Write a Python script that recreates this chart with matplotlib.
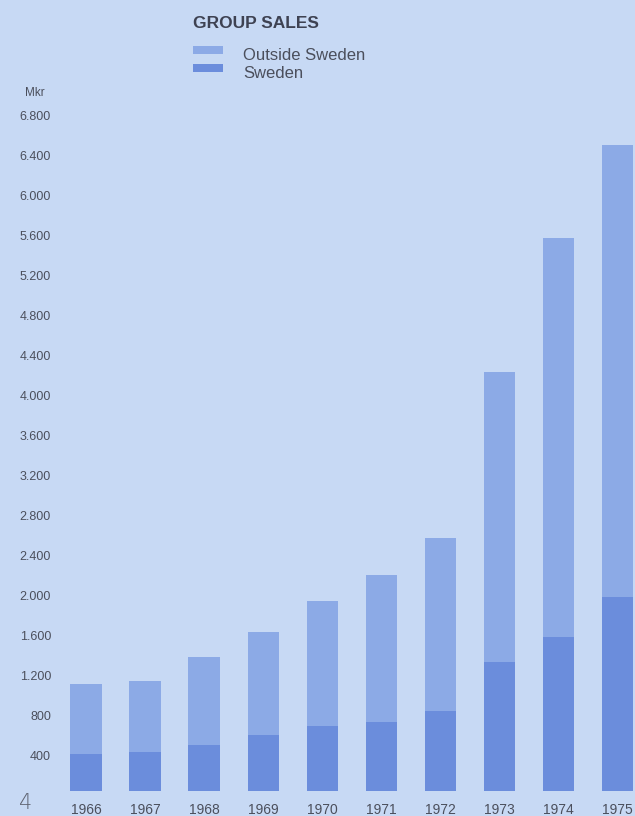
import matplotlib.pyplot as plt
import matplotlib.transforms as mtransforms
from matplotlib.patches import Rectangle

years = ["1966", "1967", "1968", "1969", "1970", "1971", "1972", "1973", "1974", "1975"]
sweden = [370, 390, 460, 560, 650, 690, 800, 1295, 1545, 1945]
outside_sweden = [700, 710, 885, 1035, 1255, 1475, 1730, 2900, 3990, 4515]
y_ticks = [400, 800, 1200, 1600, 2000, 2400, 2800, 3200, 3600, 4000, 4400, 4800,
           5200, 5600, 6000, 6400, 6800]

BG = "#c7d9f4"
C_OUTSIDE = "#8caae6"
C_SWEDEN = "#6b8ddc"
TEXT = "#4b4f5c"
FONT = "Liberation Sans"

W, H = 635, 816
fig = plt.figure(figsize=(W / 100, H / 100), dpi=100, facecolor=BG)


def fx(px):
    return px / W


def fy(px):
    return 1 - px / H


# axes spans from the bar baseline (px 791) up to px 60
ax = fig.add_axes([fx(58), fy(791), 1 - fx(58), fy(60) - fy(791)])
ax.set_facecolor(BG)

x = list(range(len(years)))
bar_w = 0.53
ax.bar(x, sweden, width=bar_w, color=C_SWEDEN, linewidth=0)
ax.bar(x, outside_sweden, width=bar_w, bottom=sweden, color=C_OUTSIDE, linewidth=0)

ax.set_xlim(-0.474, 9.296)
ax.set_ylim(0, 7310)

for s in ax.spines.values():
    s.set_visible(False)

ax.set_yticks(y_ticks)
ax.set_yticklabels([f"{v:,}".replace(",", ".") for v in y_ticks])
ax.tick_params(axis="y", length=0, pad=5, labelsize=9, labelcolor=TEXT)
shift = mtransforms.ScaledTranslation(0, -5 / 100, fig.dpi_scale_trans)
for lbl in ax.get_yticklabels():
    lbl.set_fontfamily(FONT)
    lbl.set_transform(lbl.get_transform() + shift)

ax.set_xticks(x)
ax.set_xticklabels(years)
ax.tick_params(axis="x", length=0, pad=9, labelsize=10, labelcolor=TEXT)
for lbl in ax.get_xticklabels():
    lbl.set_fontfamily(FONT)

# unit label above the value axis
fig.text(fx(35), fy(93), "Mkr", ha="center", va="center", fontsize=8.5,
         color=TEXT, family=FONT)

# title and legend keys
fig.text(fx(193), fy(23), "GROUP SALES", ha="left", va="center", fontsize=12.5,
         fontweight="bold", color="#3e4252", family=FONT)
for top, color, label, ty in [(46, C_OUTSIDE, "Outside Sweden", 56),
                              (64, C_SWEDEN, "Sweden", 73)]:
    fig.add_artist(Rectangle((fx(193), fy(top + 8)), fx(30), fy(top) - fy(top + 8),
                             transform=fig.transFigure, color=color, linewidth=0))
    fig.text(fx(243), fy(ty), label, ha="left", va="center", fontsize=12,
             color=TEXT, family=FONT)

# page number
fig.text(fx(26), fy(803), "4", ha="center", va="center", fontsize=15,
         color="#5f6472", family="DejaVu Sans", fontweight="light")

fig.savefig("out.png", dpi=100, facecolor=BG)
